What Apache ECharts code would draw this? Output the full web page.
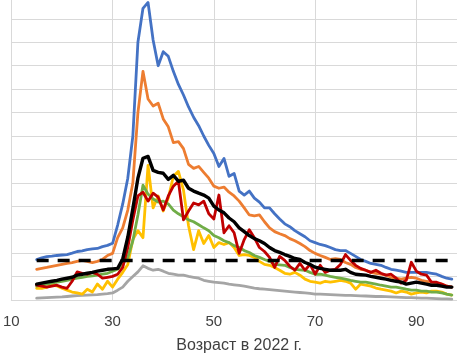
<!DOCTYPE html>
<html>
<head>
<meta charset="utf-8">
<script src="https://cdn.jsdelivr.net/npm/echarts@6/dist/echarts.min.js"></script>
<style>
html,body{margin:0;padding:0;background:#fff;overflow:hidden;width:457px;height:359px}
#wrap{position:relative;width:457px;height:359px;overflow:hidden}
#c{position:absolute;left:0;top:-28px;width:467px;height:387px}
</style>
</head>
<body>
<div id="wrap"><div id="c"></div></div>
<script>
// ages 15..97
var ages = [];
for (var a = 15; a <= 97; a++) ages.push(a);

var xTickLabels = [10, 30, 50, 70, 90];
var xAxisName = 'Возраст в 2022 г.';

var blue = [1.73,1.8,1.85,1.87,1.9,1.92,1.94,2.0,2.07,2.1,2.15,2.18,2.2,2.28,2.33,2.42,
  3.2,4.1,5.2,7.0,11.0,12.45,12.7,11.1,10.0,10.6,10.4,9.76,9.2,8.75,8.24,7.8,7.44,7.0,6.6,6.25,5.7,6.04,5.28,5.4,
  4.65,4.48,4.65,4.35,4.18,3.93,3.93,3.68,3.46,3.25,3.13,2.96,2.83,2.7,2.53,2.45,2.37,2.32,2.24,2.15,2.11,2.11,
  1.99,1.86,1.73,1.65,1.56,1.52,1.48,1.39,1.31,1.27,1.23,1.18,1.18,1.18,1.18,1.18,1.14,1.1,1.01,0.93,0.89];

var orange = [1.31,1.35,1.39,1.44,1.48,1.52,1.56,1.6,1.65,1.69,1.65,1.6,1.65,1.73,1.9,1.99,
  2.66,3.08,3.84,5.0,8.0,9.76,8.58,8.28,8.4,7.73,7.39,6.72,6.76,6.46,5.79,5.62,5.7,5.45,5.2,4.86,4.77,4.82,4.6,4.44,
  4.22,3.93,3.63,3.59,3.63,3.34,3.08,2.92,2.83,2.75,2.62,2.53,2.41,2.28,2.11,1.99,1.9,1.82,1.73,1.77,1.73,1.6,
  1.52,1.39,1.31,1.27,1.18,1.14,1.1,1.06,0.97,0.93,0.89,0.93,0.97,0.93,0.84,0.8,0.76,0.72,0.68,0.59,0.55];

var black = [0.68,0.72,0.76,0.8,0.84,0.89,0.93,0.97,1.06,1.1,1.14,1.18,1.23,1.27,1.31,1.33,
  1.35,1.75,2.68,3.9,5.2,6.05,6.13,5.53,5.45,5.41,5.15,5.32,5.07,5.11,4.77,4.65,4.56,4.48,4.35,4.01,3.84,3.72,3.5,3.34,
  3.08,2.92,2.75,2.62,2.53,2.41,2.24,2.11,2.03,1.94,1.86,1.77,1.73,1.6,1.52,1.4,1.35,1.31,1.27,1.27,1.27,1.31,
  1.18,1.1,1.08,1.06,1.01,0.97,0.93,0.89,0.84,0.8,0.76,0.68,0.72,0.76,0.72,0.68,0.63,0.63,0.59,0.55,0.55];

var red = [0.63,0.59,0.55,0.59,0.63,0.55,0.5,0.8,1.2,1.14,1.1,1.18,1.1,0.93,0.97,1.01,
  1.1,1.39,2.24,3.42,4.44,4.6,4.22,4.56,4.39,3.84,4.44,4.86,5.07,3.42,3.8,4.14,4.06,4.22,3.68,3.46,4.48,2.87,3.17,2.87,
  1.99,2.58,3.0,2.66,2.24,2.07,1.82,1.39,1.86,1.69,1.44,1.27,1.56,1.27,1.52,1.1,1.48,1.18,1.27,1.31,1.52,1.94,
  1.69,1.48,1.35,1.27,1.18,1.27,1.14,1.06,1.1,0.93,0.72,0.84,1.61,1.23,1.1,1.06,0.76,0.76,0.68,0.59,0.55];

var yellow = [0.5,0.5,0.55,0.63,0.6,0.5,0.42,0.34,0.3,0.25,0.46,0.34,0.68,0.46,0.8,0.55,
  0.89,1.18,1.52,2.58,2.96,2.66,5.75,3.93,4.44,3.8,4.35,5.28,5.49,4.69,3.17,2.15,2.96,2.41,2.75,2.24,2.45,2.37,2.45,2.24,
  1.9,1.94,1.9,1.82,1.65,1.52,1.48,1.39,1.27,1.14,1.1,1.18,1.06,0.89,0.8,0.76,0.72,0.8,0.76,0.8,0.84,0.8,
  0.72,0.46,0.68,0.63,0.59,0.51,0.46,0.42,0.38,0.3,0.38,0.34,0.25,0.3,0.34,0.3,0.38,0.38,0.34,0.25,0.21];

var green = [0.59,0.63,0.68,0.72,0.76,0.8,0.84,0.89,0.93,0.97,1.01,1.03,1.06,1.1,1.14,1.23,
  1.31,1.56,1.82,2.53,3.63,4.9,4.52,4.31,4.18,4.22,4.1,3.84,3.68,3.55,3.42,3.34,3.21,3.08,2.96,2.75,2.66,2.53,2.45,2.32,
  2.24,2.11,2.03,1.9,1.82,1.73,1.65,1.52,1.5,1.48,1.39,1.31,1.29,1.27,1.18,1.1,1.1,1.06,1.01,0.97,0.93,0.89,
  0.84,0.8,0.76,0.76,0.72,0.68,0.63,0.59,0.55,0.55,0.51,0.46,0.42,0.42,0.38,0.38,0.34,0.34,0.3,0.25,0.21];

var gray = [0.08,0.09,0.1,0.11,0.12,0.13,0.15,0.17,0.19,0.2,0.21,0.22,0.23,0.25,0.27,0.3,
  0.42,0.55,0.8,1.0,1.2,1.46,1.35,1.27,1.31,1.23,1.14,1.1,1.06,1.06,1.01,0.97,0.93,0.84,0.8,0.76,0.74,0.72,0.68,0.65,
  0.62,0.59,0.55,0.51,0.48,0.46,0.44,0.42,0.4,0.38,0.36,0.34,0.32,0.3,0.28,0.25,0.25,0.24,0.23,0.22,0.21,0.2,
  0.2,0.19,0.18,0.17,0.16,0.15,0.15,0.14,0.13,0.12,0.11,0.1,0.1,0.09,0.08,0.08,0.07,0.06,0.05,0.05,0.04];

var thresholdValue = 1.69;
var threshold = ages.map(function(){ return thresholdValue; });

function pairs(vals){ return ages.map(function(a,i){ return [a, vals[i]]; }); }

var FONT = 'Liberation Sans, Arial, sans-serif';
function line(name, vals, color, width, extra){
  var s = {
    name: name, type: 'line', data: pairs(vals), symbol: 'none', smooth: false,
    animation: false, silent: true,
    lineStyle: { color: color, width: width, cap: 'round', join: 'round' }
  };
  if (extra) for (var k in extra) s.lineStyle[k] = extra[k];
  return s;
}

var chart = echarts.init(document.getElementById('c'), null, {renderer: 'canvas'});
chart.setOption({
  animation: false,
  backgroundColor: '#ffffff',
  grid: { left: 8, right: 0, top: 0, bottom: 56, containLabel: false },
  xAxis: {
    type: 'value', min: 10, max: 100, interval: 20,
    name: xAxisName, nameLocation: 'middle', nameGap: 38,
    nameTextStyle: { fontFamily: FONT, fontSize: 16, color: '#404040' },
    axisLine: { show: true, lineStyle: { color: '#D9D9D9', width: 1 } },
    axisTick: { show: false },
    splitLine: { show: true, lineStyle: { color: '#D9D9D9', width: 1 } },
    axisLabel: {
      fontFamily: FONT, fontSize: 15, color: '#404040', margin: 14,
      showMaxLabel: false,
      formatter: function(v){ return xTickLabels.indexOf(v) >= 0 ? String(v) : ''; }
    }
  },
  yAxis: {
    type: 'value', min: 0, max: 14, interval: 1,
    axisLine: { show: true, lineStyle: { color: '#D9D9D9', width: 1 } },
    axisTick: { show: false },
    axisLabel: { show: false },
    splitLine: { show: true, lineStyle: { color: '#D9D9D9', width: 1 } }
  },
  series: [
    line('blue', blue, '#4472C4', 2.8),
    line('orange', orange, '#ED7D31', 2.8),
    line('gray', gray, '#A5A5A5', 2.8),
    line('yellow', yellow, '#FFC000', 2.8),
    line('green', green, '#70AD47', 2.8),
    line('red', red, '#C00000', 2.8),
    line('black', black, '#000000', 3.4),
    line('threshold', threshold, '#000000', 3.5, { type: [12, 9], cap: 'butt' })
  ]
});
</script>
</body>
</html>
